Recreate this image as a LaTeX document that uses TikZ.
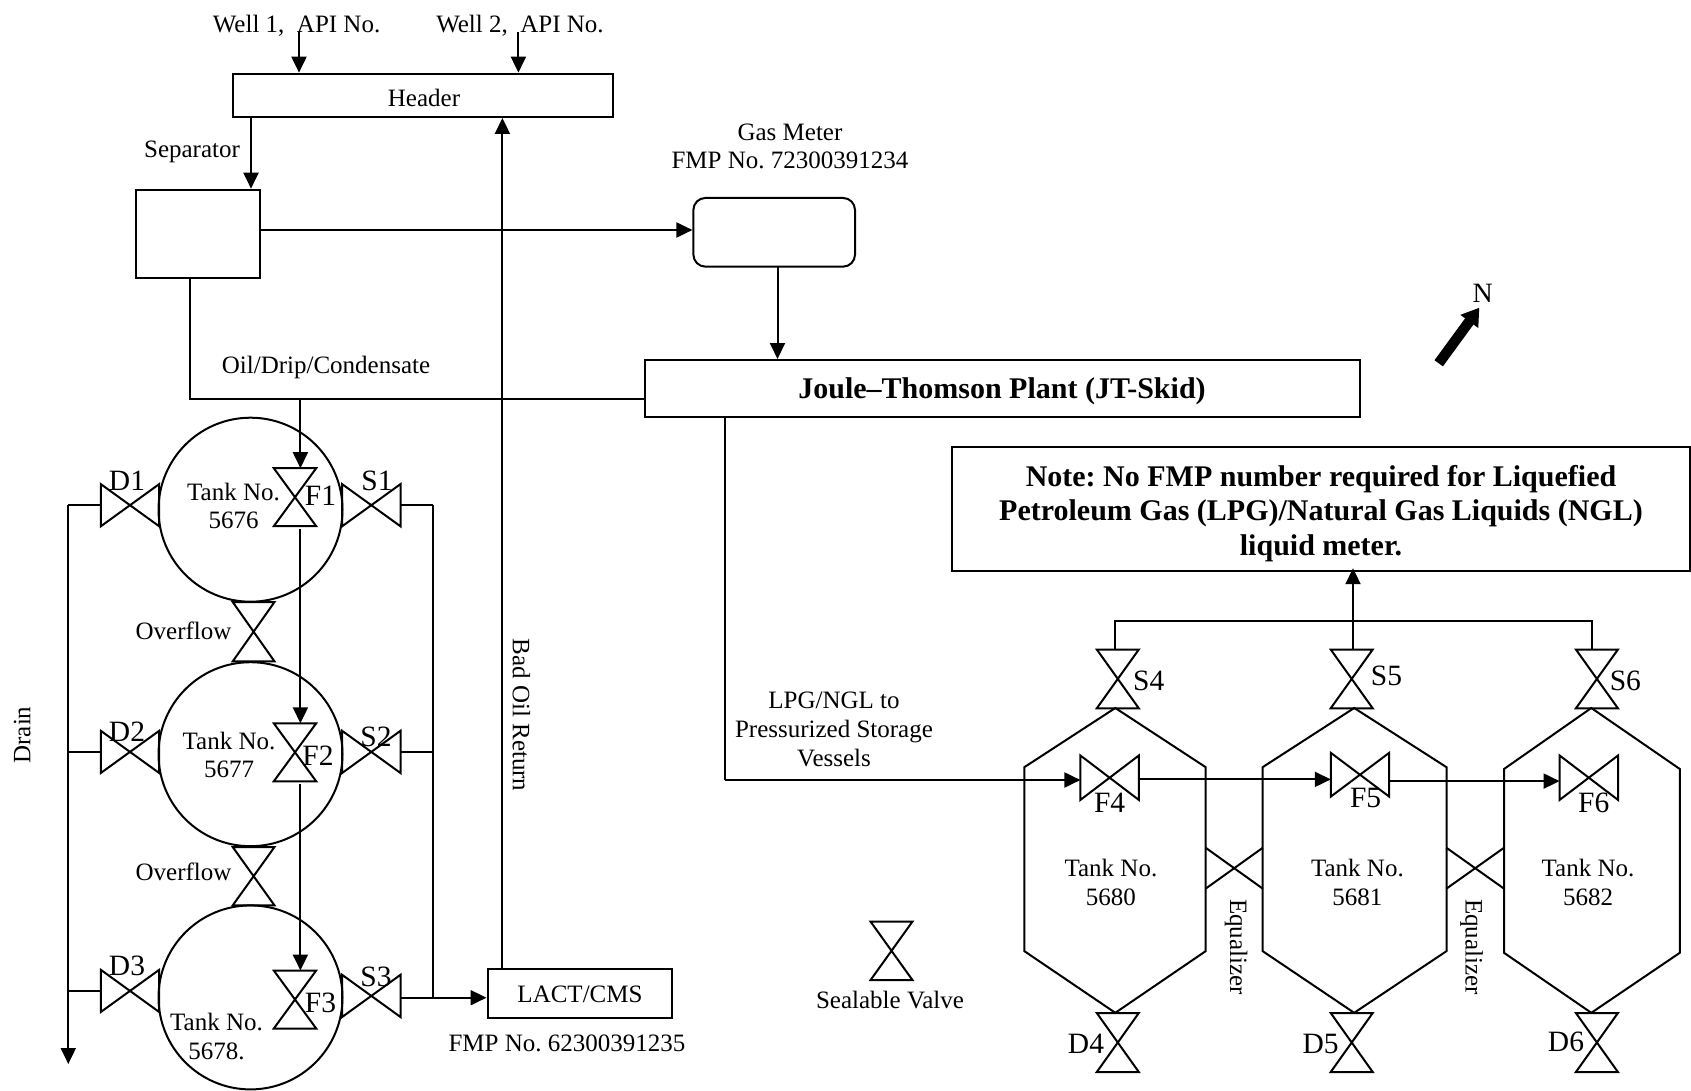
\documentclass[tikz,border=0pt]{standalone}
\usepackage{fontspec}
\setmainfont{Liberation Serif}
\usetikzlibrary{arrows.meta}
\AtBeginDocument{\frenchspacing}
\tikzset{
  ln/.style={draw=black,line width=2pt,line join=miter},
  flow/.style={ln,-{Triangle[length=16pt,width=15pt]}},
  boxn/.style={ln,rectangle,inner sep=0pt,fill=none},
  anch/.style={rectangle,inner sep=0pt,draw=none},
  lab/.style={inner sep=0pt,font=\fontsize{25}{28.8}\selectfont,align=center},
  tag/.style={inner sep=0pt,font=\fontsize{29.5}{34}\selectfont},
  bold/.style={inner sep=0pt,align=center,font=\fontsize{30}{34.5}\selectfont\bfseries},
  tankc/.style={ln,circle,minimum size=184pt,inner sep=0pt},
}
% vertical-axis bow tie: name, x, y, half width, half height
\newcommand{\valveV}[5]{%
  \node[anch,minimum width=2*#4 pt,minimum height=2*#5 pt] (#1) at (#2,#3) {};
  \draw[ln] (#1.north west)--(#1.north east)--(#1.south west)--(#1.south east)--cycle;}
% horizontal-axis bow tie
\newcommand{\valveH}[5]{%
  \node[anch,minimum width=2*#4 pt,minimum height=2*#5 pt] (#1) at (#2,#3) {};
  \draw[ln] (#1.north west)--(#1.south east)--(#1.north east)--(#1.south west)--cycle;}
% vessel: name, left, right, apex x, upper shoulder y, lower shoulder y
\newcommand{\vessel}[6]{%
  \coordinate (#1top) at (#4,708);
  \coordinate (#1bot) at (#4,1012.8);
  \draw[ln] (#1top)--(#2,#5)--(#2,#6)--(#1bot)--(#3,#6)--(#3,#5)--cycle;}
\begin{document}
\begin{tikzpicture}[x=1pt,y=-1pt]
\useasboundingbox (0,0) rectangle (1691,1091);
\fill[white] (0,0) rectangle (1691,1091);

% top boxes
\node[boxn,minimum width=380pt,minimum height=43.3pt] (header) at (423,95.3) {};
\node[lab] (headertxt) at (424,98) {Header};
\node[boxn,minimum width=124pt,minimum height=88.6pt] (sep) at (197.7,234) {};
\node[boxn,rounded corners=12pt,minimum width=161.6pt,minimum height=68.7pt] (gas) at (774.2,232.3) {};
\node[boxn,minimum width=714.6pt,minimum height=57pt] (jt) at (1002.7,388.5) {};
\node[bold] (jttxt) at (1002,391.5) {Joule--Thomson Plant (JT-Skid)};
\node[boxn,minimum width=738.4pt,minimum height=123.4pt] (note) at (1320.8,509) {};
\node[bold] (notetxt) at (1321,513.5) {Note: No FMP number required for Liquefied\\Petroleum Gas (LPG)/Natural Gas Liquids (NGL)\\liquid meter.};
\node[boxn,minimum width=184.8pt,minimum height=48.5pt] (lact) at (579.9,993.3) {};
\node[lab] (lacttxt) at (580,994.5) {LACT/CMS};

% well labels and feeds
\node[lab] (w1) at (296.6,26) {Well 1,\ \ API No.};
\node[lab] (w2) at (520,26) {Well 2,\ \ API No.};
\coordinate (w1s) at (299,32);
\coordinate (w2s) at (518.4,32);
\draw[flow] (w1s) -- (w1s |- header.north);
\draw[flow] (w2s) -- (w2s |- header.north);
\coordinate (hsep) at (251,117);
\draw[flow] (hsep) -- (hsep |- sep.north);
\node[lab] (septxt) at (192,152) {Separator};
\node[lab] (gastxt) at (790,146.5) {Gas Meter\\FMP No. 72300391234};
\draw[flow] (sep.east |- 0,230) -- (gas.west |- 0,230);
\coordinate (gasd) at (777.5,266.7);
\draw[flow] (gasd) -- (gasd |- jt.north);
\node[lab] (oiltxt) at (326,367.5) {Oil/Drip/Condensate};

% round tanks
\node[tankc] (t1) at (250.5,509.7) {};
\node[tankc] (t2) at (250.5,754.2) {};
\node[tankc] (t3) at (250.5,997.4) {};
\node[lab] (t1txt) at (233.5,506) {Tank No.\\5676};
\node[lab] (t2txt) at (229,755) {Tank No.\\5677};
\node[lab] (t3txt) at (216.5,1036.5) {Tank No.\\5678.};

% valves round tanks
\valveH{D1}{130}{505.2}{29}{20.9}
\valveH{D2}{130}{751.9}{29}{20.9}
\valveH{D3}{130}{990.9}{29}{20.9}
\valveH{S1}{371.3}{505.2}{29}{20.9}
\valveH{S2}{371.3}{751.9}{29}{20.9}
\valveH{S3}{371.3}{995.9}{29}{20.9}
\valveV{F1}{295}{497.2}{21}{28.8}
\valveV{F2}{295}{752.3}{21}{28.8}
\valveV{F3}{295}{999.5}{21}{28.8}
\valveV{O1}{253.6}{631.7}{20.7}{29.5}
\valveV{O2}{253.6}{876.2}{20.7}{29}
\node[tag] (D1t) at (127,481) {D1};
\node[tag] (D2t) at (127,731.5) {D2};
\node[tag] (D3t) at (127,965.5) {D3};
\node[tag] (S1t) at (377,481) {S1};
\node[tag] (S2t) at (376,736.5) {S2};
\node[tag] (S3t) at (376,977) {S3};
\node[tag] (F1t) at (320.5,496) {F1};
\node[tag] (F2t) at (318,755.5) {F2};
\node[tag] (F3t) at (320.5,1002.5) {F3};
\node[lab] (ov1) at (183.5,631) {Overflow};
\node[lab] (ov2) at (183.5,872) {Overflow};

% oil line
\coordinate (sepd) at (189.8,278.3);
\coordinate (oilc) at (189.8,398.5);
\coordinate (oilj) at (300.4,398.5);
\draw[ln] (sepd) -- (oilc) -- (oilc -| jt.west);
\draw[flow] (oilj) -- (oilj |- F1.north);
\coordinate (f1o) at (300.4,529);
\coordinate (f2o) at (300.4,784);
\draw[flow] (f1o) -- (f1o |- F2.north);
\draw[flow] (f2o) -- (f2o |- F3.north);

% drain
\coordinate (dtop) at (68.3,505.2);
\coordinate (dend) at (68.3,1064);
\draw[flow] (dtop) -- (dend);
\draw[ln] (D1.west) -- (D1.west -| dtop);
\draw[ln] (D2.west) -- (D2.west -| dtop);
\draw[ln] (D3.west) -- (D3.west -| dtop);
\node[lab,rotate=90] (draintxt) at (22.3,735) {Drain};

% sales manifold
\coordinate (stop) at (432.6,505.2);
\coordinate (sbot) at (432.6,997.7);
\draw[ln] (stop) -- (sbot);
\draw[ln] (S1.east) -- (stop);
\draw[ln] (S2.east) -- (S2.east -| stop);
\coordinate (s3o) at (400.3,997.7);
\draw[flow] (s3o) -- (s3o -| lact.west);

% bad oil return
\coordinate (bad) at (502.4,969);
\draw[flow] (bad) -- (bad |- header.south);
\node[lab,rotate=-90] (badtxt) at (521.5,715) {Bad Oil Return};
\node[lab] (fmp2) at (567,1043.5) {FMP No. 62300391235};

% north
\node[inner sep=0pt,font=\fontsize{28}{32}\selectfont] (north) at (1482.7,293) {N};
\coordinate (ntail) at (1438.7,363.3);
\coordinate (nhead) at (1479.3,307.7);
\draw[line width=10.4pt,-{Triangle[length=17pt,width=21pt]}] (ntail) -- (nhead);

% LPG line and vessels
\vessel{a}{1024.3}{1205.7}{1115.3}{767.2}{951.1}
\vessel{b}{1262.6}{1446.5}{1354.2}{767.2}{951.1}
\vessel{c}{1504}{1679.8}{1591.3}{769}{952.8}
\valveV{S4}{1117.8}{678.9}{20.8}{29.2}
\valveV{S5}{1351.7}{678.9}{20.8}{29.2}
\valveV{S6}{1596.9}{678.9}{20.8}{29.2}
\valveV{D4}{1117.8}{1042.5}{20.8}{29.3}
\valveV{D5}{1351.7}{1042.5}{20.8}{29.3}
\valveV{D6}{1596.9}{1042.5}{20.8}{29.3}
\valveH{F4}{1109.6}{777.7}{29}{22}
\valveH{F5}{1360}{774.7}{29}{21.7}
\valveH{F6}{1588.8}{777.7}{29}{22}
\node[anch,minimum width=57pt,minimum height=40.7pt] (E1) at (1234.2,868.2) {};
\draw[ln] (E1.north west) -- (E1.south east) (E1.north east) -- (E1.south west);
\node[anch,minimum width=57.5pt,minimum height=40.7pt] (E2) at (1475.2,868.2) {};
\draw[ln] (E2.north west) -- (E2.south east) (E2.north east) -- (E2.south west);
\node[lab,rotate=-90] (eq1) at (1236,947) {Equalizer};
\node[lab,rotate=-90] (eq2) at (1471.5,947) {Equalizer};

\coordinate (jtd) at (725.3,417);
\coordinate (lpgc) at (725.3,780);
\draw[ln] (jtd) -- (lpgc);
\draw[flow] (lpgc) -- (lpgc -| F4.west);
\coordinate (f4o) at (1138.7,779.4);
\draw[flow] (f4o) -- (f4o -| F5.west);
\coordinate (f5o) at (1389,781.1);
\draw[flow] (f5o) -- (f5o -| F6.west);
\node[lab] (lpgtxt) at (834,729.5) {LPG/NGL to\\Pressurized Storage\\Vessels};

\coordinate (ttl) at (1115.3,621);
\coordinate (ttr) at (1592,621);
\draw[ln] (S4.north -| ttl) -- (ttl) -- (ttr) -- (S6.north -| ttr);
\coordinate (s5t) at (1353,649.7);
\draw[flow,shorten >=-3.5pt] (s5t) -- (s5t |- note.south);

\node[tag] (S4t) at (1148.8,681) {S4};
\node[tag] (S5t) at (1386.5,676) {S5};
\node[tag] (S6t) at (1625.4,681) {S6};
\node[tag] (F4t) at (1109.6,803) {F4};
\node[tag] (F5t) at (1365.6,798) {F5};
\node[tag] (F6t) at (1593.8,803) {F6};
\node[tag] (D4t) at (1086,1044) {D4};
\node[tag] (D5t) at (1320.7,1044) {D5};
\node[tag] (D6t) at (1566,1042) {D6};
\node[lab] (ta) at (1110.9,882.5) {Tank No.\\5680};
\node[lab] (tb) at (1357.4,882.5) {Tank No.\\5681};
\node[lab] (tc) at (1588,882.5) {Tank No.\\5682};

% legend
\valveV{leg}{891.5}{950.8}{20.8}{29.1}
\node[lab] (legtxt) at (890,1000.5) {Sealable Valve};
\end{tikzpicture}
\end{document}
